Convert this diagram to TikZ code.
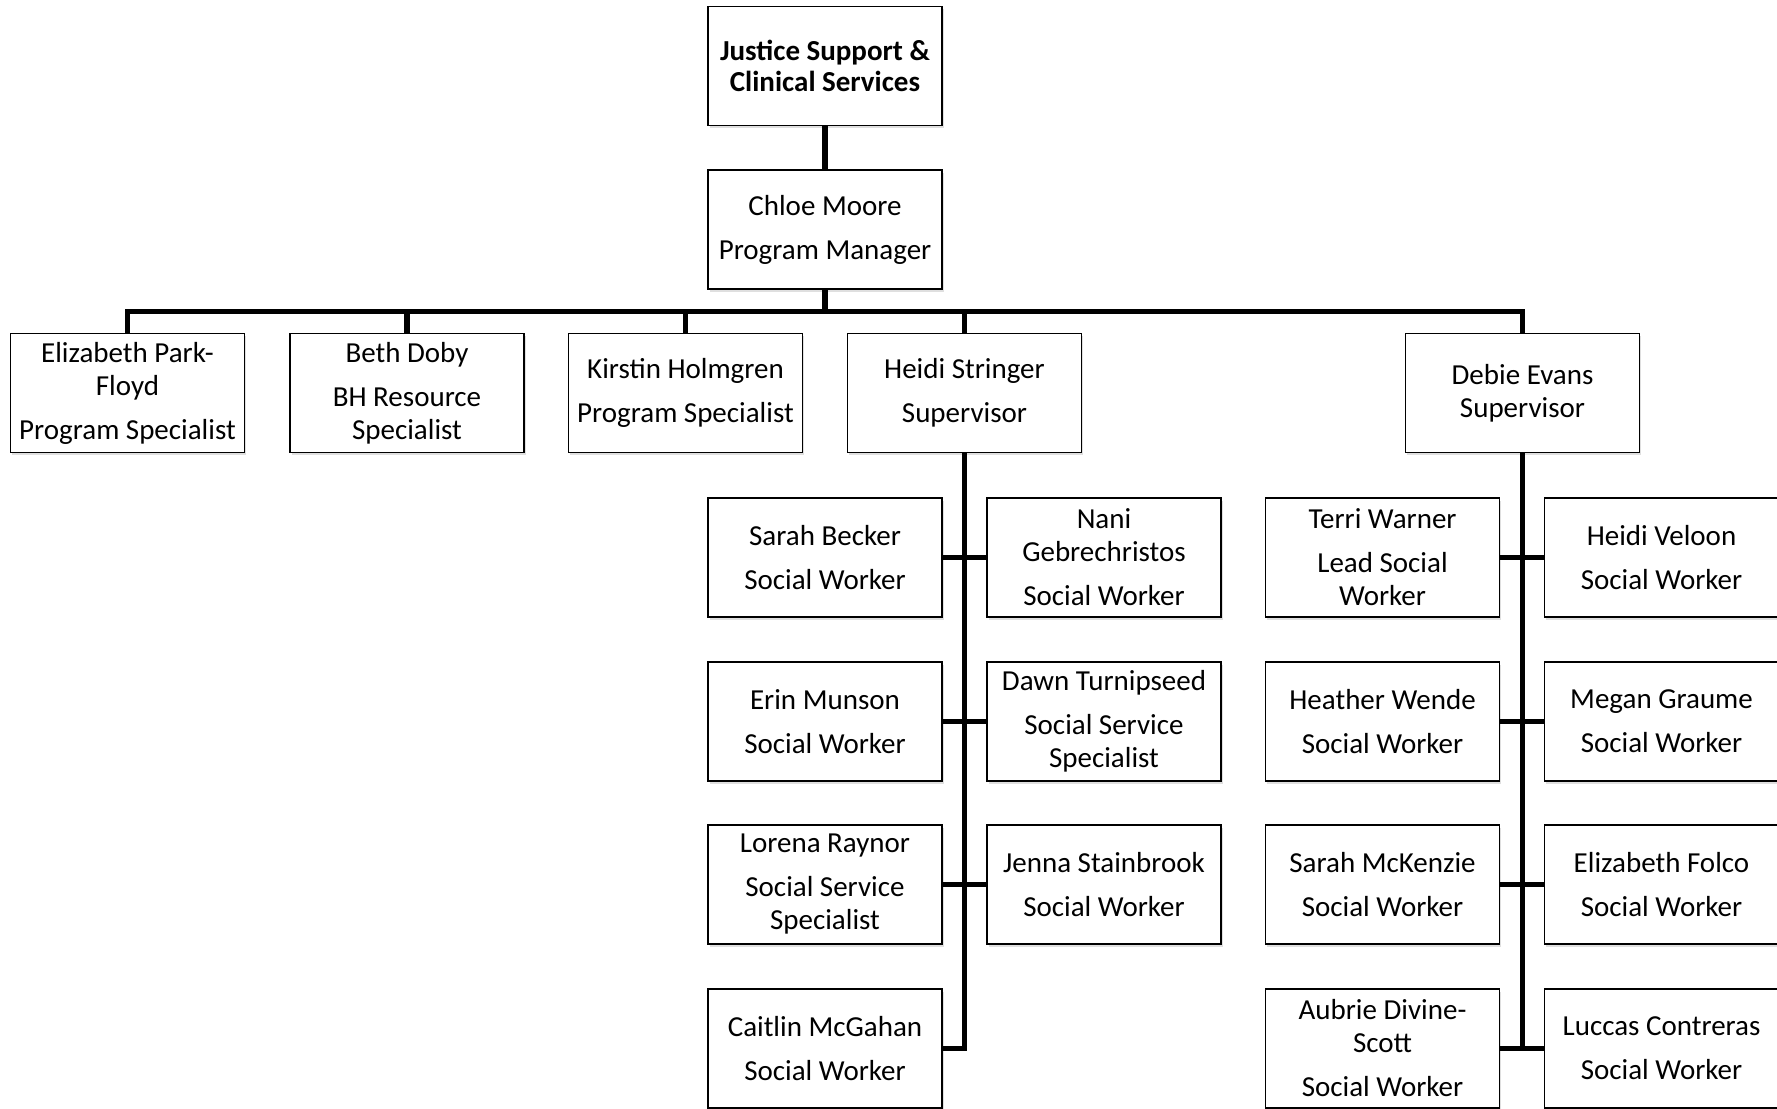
\documentclass[tikz,border=0pt]{standalone}
\usepackage{fontspec}
\setmainfont{Carlito}
\usetikzlibrary{shadows}
\begin{document}
\begin{tikzpicture}[x=1pt,y=-1pt,
  box/.style={draw=black, line width=1.4pt, fill=white, minimum width=234pt, minimum height=119pt,
    inner sep=0pt, outer sep=0pt, align=center, font=\fontsize{29}{33}\selectfont,
    drop shadow={shadow xshift=1.5pt, shadow yshift=-2.5pt, opacity=0.25}},
  conn/.style={line width=5.5pt, line join=miter},
  stub/.style={line width=4.5pt}]
\useasboundingbox (0,0) rectangle (1777,1108);
% top levels
\node[box, font=\fontsize{29}{31}\selectfont\bfseries] (top) at (825,66) {Justice Support \&\\Clinical Services};
\node[box] (chloe) at (825,229.5) {Chloe Moore\\[11pt]Program Manager};
% row 1
\node[box] (eliz) at (127.5,393) {Elizabeth Park-\\Floyd\\[11pt]Program Specialist};
\node[box] (beth) at (407,393) {Beth Doby\\[11pt]BH Resource\\Specialist};
\node[box] (kirstin) at (685.5,393) {Kirstin Holmgren\\[11pt]Program Specialist};
\node[box] (heidi) at (964.5,393) {Heidi Stringer\\[11pt]Supervisor};
\node[box] (debie) at (1522.5,393) {Debie Evans\\Supervisor};
% Heidi's team
\node[box] (sarahb) at (825,557.5) {Sarah Becker\\[11pt]Social Worker};
\node[box] (nani) at (1104,557.5) {Nani\\Gebrechristos\\[11pt]Social Worker};
\node[box] (erin) at (825,721.5) {Erin Munson\\[11pt]Social Worker};
\node[box] (dawn) at (1104,721.5) {Dawn Turnipseed\\[11pt]Social Service\\Specialist};
\node[box] (lorena) at (825,884.5) {Lorena Raynor\\[11pt]Social Service\\Specialist};
\node[box] (jenna) at (1104,884.5) {Jenna Stainbrook\\[11pt]Social Worker};
\node[box] (caitlin) at (825,1048.5) {Caitlin McGahan\\[11pt]Social Worker};
% Debie's team
\node[box] (terri) at (1382.5,557.5) {Terri Warner\\[11pt]Lead Social\\Worker};
\node[box] (veloon) at (1661.5,557.5) {Heidi Veloon\\[11pt]Social Worker};
\node[box] (heather) at (1382.5,721.5) {Heather Wende\\[11pt]Social Worker};
\node[box] (megan) at (1661.5,721.5) {Megan Graume\\[11pt]Social Worker};
\node[box] (mckenzie) at (1382.5,884.5) {Sarah McKenzie\\[11pt]Social Worker};
\node[box] (folco) at (1661.5,884.5) {Elizabeth Folco\\[11pt]Social Worker};
\node[box] (aubrie) at (1382.5,1048.5) {Aubrie Divine-\\Scott\\[11pt]Social Worker};
\node[box] (luccas) at (1661.5,1048.5) {Luccas Contreras\\[11pt]Social Worker};
% connectors
\draw[conn] (top.south) -- (chloe.north);
\foreach \n in {eliz,beth,kirstin,heidi,debie}
  \draw[conn] (chloe.south) -- ++(0,22.5) -| (\n.north);
\draw[conn] (heidi.south) |- (caitlin.east);
\draw[stub] (sarahb.east) -- (nani.west);
\draw[stub] (erin.east) -- (dawn.west);
\draw[stub] (lorena.east) -- (jenna.west);
\draw[conn] (debie.south) -- (debie.south |- aubrie.east);
\draw[stub] (terri.east) -- (veloon.west);
\draw[stub] (heather.east) -- (megan.west);
\draw[stub] (mckenzie.east) -- (folco.west);
\draw[stub] (aubrie.east) -- (luccas.west);
\end{tikzpicture}
\end{document}
